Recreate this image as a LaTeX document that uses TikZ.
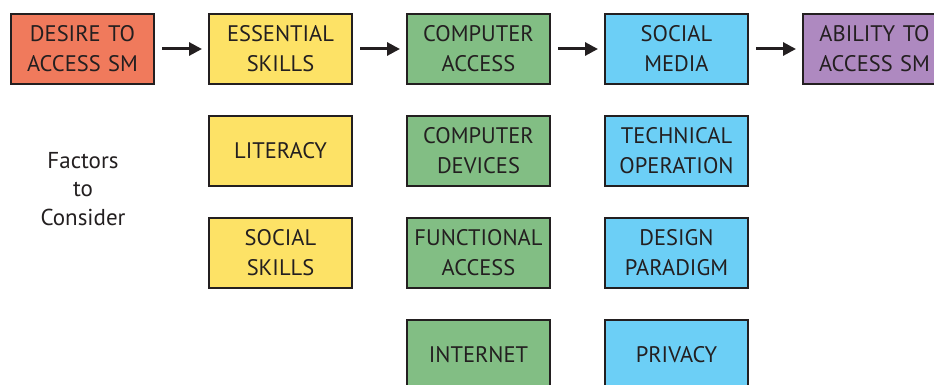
\documentclass[tikz,border=0pt]{standalone}
\usepackage{fontspec}
\setmainfont{PT Sans}
\usetikzlibrary{positioning,arrows.meta}
\definecolor{ink}{HTML}{231F20}
\definecolor{desirefill}{HTML}{F07A5C}
\definecolor{skillfill}{HTML}{FDE266}
\definecolor{compfill}{HTML}{82BE84}
\definecolor{smfill}{HTML}{6CCFF6}
\definecolor{abilityfill}{HTML}{AE89C0}
\tikzset{bx/.style={draw=ink,line width=2pt,minimum width=143pt,minimum height=70pt,text width=140pt,align=center,inner sep=0pt,text=ink,font=\fontsize{22.5}{30}\selectfont},
	ar/.style={draw=ink,line width=3pt,-{Triangle[length=13pt,width=13pt]},shorten <=7pt,shorten >=6pt}}

\begin{document}
\begin{tikzpicture}[x=1pt,y=1pt,node distance=30pt and 53pt]
	\useasboundingbox (0,0) rectangle (934,-385);
	% top row
	\node[bx,fill=desirefill] (desire) at (82.5,-49) {DESIRE TO\\ACCESS SM};
	\node[bx,fill=skillfill,right=of desire] (skills) {ESSENTIAL\\SKILLS};
	\node[bx,fill=compfill,right=of skills] (comp) {COMPUTER\\ACCESS};
	\node[bx,fill=smfill,right=of comp] (sm) {SOCIAL\\MEDIA};
	\node[bx,fill=abilityfill,right=of sm] (ability) {ABILITY TO\\ACCESS SM};
	\draw[ar] (desire) -- (skills);
	\draw[ar] (skills) -- (comp);
	\draw[ar] (comp) -- (sm);
	\draw[ar] (sm) -- (ability);
	% factors below each step
	\node[bx,fill=skillfill,below=of skills] (literacy) {LITERACY};
	\node[bx,fill=skillfill,below=of literacy] (social) {SOCIAL\\SKILLS};
	\node[bx,fill=compfill,below=of comp] (devices) {COMPUTER\\DEVICES};
	\node[bx,fill=compfill,below=of devices] (functional) {FUNCTIONAL\\ACCESS};
	\node[bx,fill=compfill,below=of functional] (internet) {INTERNET};
	\node[bx,fill=smfill,below=of sm] (technical) {TECHNICAL\\OPERATION};
	\node[bx,fill=smfill,below=of technical] (design) {DESIGN\\PARADIGM};
	\node[bx,fill=smfill,below=of design] (privacy) {PRIVACY};
	\node[align=center,text=ink,font=\fontsize{23}{28.5}\selectfont] (factors) at (83,-189) {Factors\\to\\Consider};
\end{tikzpicture}
\end{document}
